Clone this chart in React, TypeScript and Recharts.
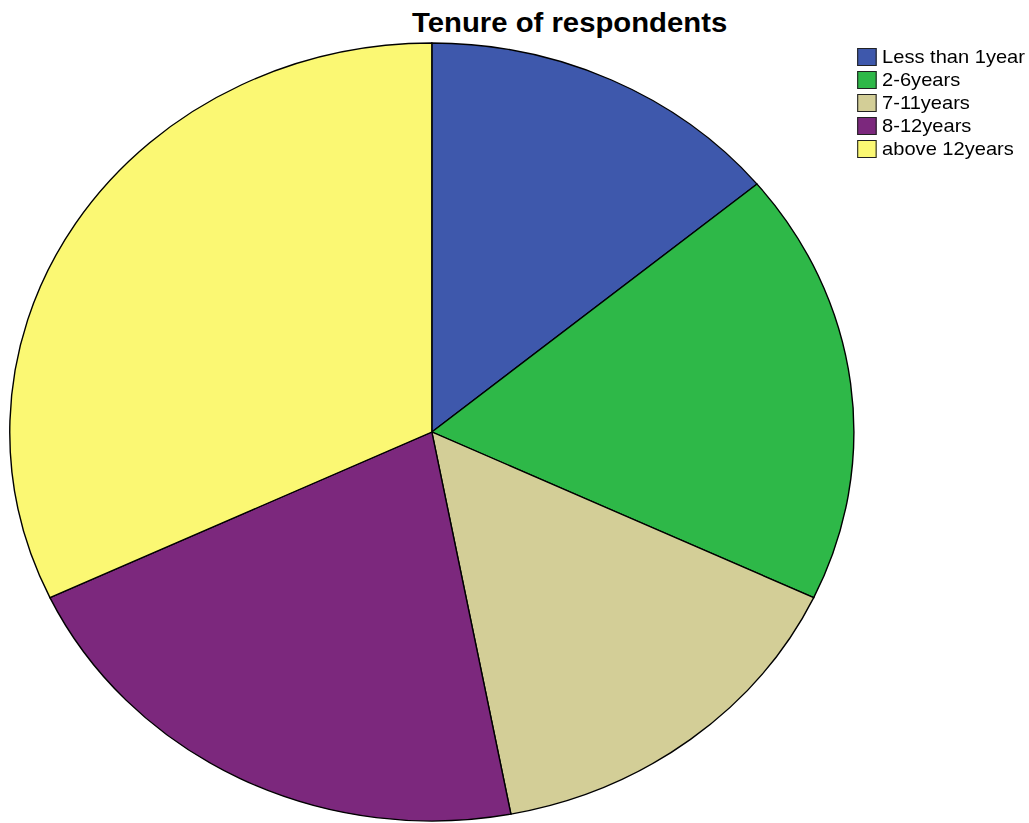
import { PieChart, Pie, Cell, Legend } from 'recharts';

const categories = ['Less than 1year', '2-6years', '7-11years', '8-12years', 'above 12years'];
const counts = [14, 18, 15, 21, 32];
const colors = ['#3E58AC', '#2EB848', '#D3CE97', '#7C287D', '#FBF873'];

const data = categories.map((name, i) => ({ name, value: counts[i] }));

// the reference image is stretched horizontally, so the whole chart is too
const STRETCH = 1.085;
const FONT = '"Liberation Sans", Arial, sans-serif';

function LegendBox() {
  return (
    <div style={{ fontFamily: FONT, fontSize: 18.5, lineHeight: '23px', color: '#000' }}>
      {categories.map((name, i) => (
        <div key={name} style={{ display: 'flex', alignItems: 'center', height: 23 }}>
          <span
            style={{
              display: 'inline-block',
              width: 16,
              height: 16,
              background: colors[i],
              border: '1.5px solid #222',
              marginRight: 5,
            }}
          />
          <span>{name}</span>
        </div>
      ))}
    </div>
  );
}

export default function App() {
  return (
    <div
      style={{
        position: 'absolute',
        left: 0,
        top: 0,
        width: 948,
        height: 823,
        background: '#fff',
        transform: `scaleX(${STRETCH})`,
        transformOrigin: '0 0',
      }}
    >
      <div
        style={{
          position: 'absolute',
          top: 10,
          left: 325,
          width: 400,
          textAlign: 'center',
          fontFamily: FONT,
          fontWeight: 'bold',
          fontSize: 27,
          lineHeight: '27px',
        }}
      >
        Tenure of respondents
      </div>
      <PieChart width={948} height={823} margin={{ top: 0, right: 0, bottom: 0, left: 0 }}>
        <Pie
          data={data}
          dataKey="value"
          nameKey="name"
          cx={398}
          cy={432}
          outerRadius={389}
          startAngle={90}
          endAngle={-270}
          stroke="#000"
          strokeWidth={1.3}
          isAnimationActive={false}
        >
          {data.map((d, i) => (
            <Cell key={d.name} fill={colors[i]} />
          ))}
        </Pie>
        <Legend
          layout="vertical"
          verticalAlign="top"
          align="right"
          content={() => <LegendBox />}
          wrapperStyle={{ top: 45, left: 790, width: 160 }}
        />
      </PieChart>
    </div>
  );
}
